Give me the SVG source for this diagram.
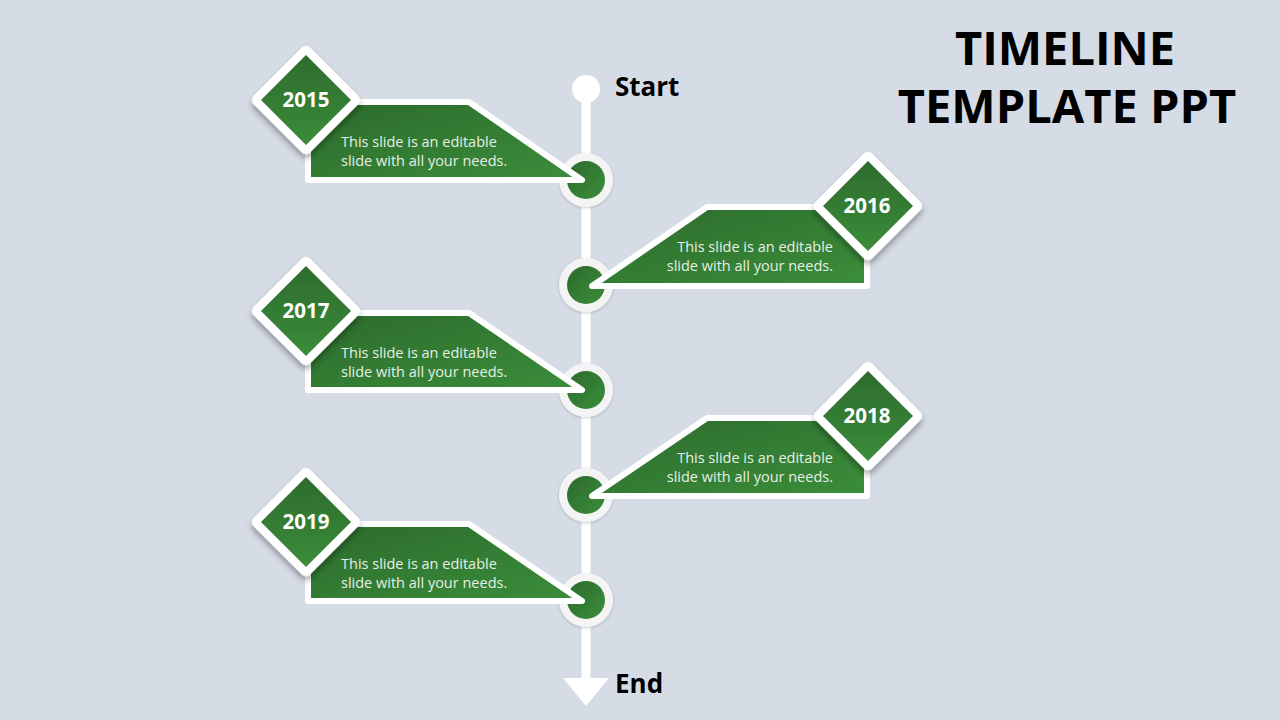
<svg xmlns="http://www.w3.org/2000/svg" width="1280" height="720" viewBox="0 0 1280 720">
<defs>
<linearGradient id="g" x1="0" y1="0" x2="1" y2="1">
<stop offset="0" stop-color="#2c6a2c"/>
<stop offset="1" stop-color="#3b8e3b"/>
</linearGradient>
<filter id="sh" x="-30%" y="-30%" width="160%" height="160%">
<feDropShadow dx="3" dy="3" stdDeviation="3" flood-color="#000" flood-opacity="0.35"/>
</filter>
<filter id="sh2" x="-30%" y="-30%" width="160%" height="160%">
<feDropShadow dx="0" dy="1" stdDeviation="1.5" flood-color="#000" flood-opacity="0.2"/>
</filter>
</defs>
<style>
.panel{fill:url(#g);stroke:#fff;stroke-width:6;stroke-linejoin:round}
.dia{fill:url(#g);stroke:#fff;stroke-width:8;stroke-linejoin:round;filter:url(#sh)}
.ring{fill:#f4f4f4;filter:url(#sh2)}
.dot{fill:url(#g)}
.yr{font-family:"Open Sans","Liberation Sans",sans-serif;font-weight:700;font-size:20.5px;fill:#fff;text-anchor:middle}
.desc{font-family:"Open Sans","Liberation Sans",sans-serif;font-size:14.5px;fill:#e6efe6}
.r{text-anchor:end}
.lbl{font-family:"Open Sans","Liberation Sans",sans-serif;font-weight:700;font-size:26px;fill:#000}
.title{font-family:"Open Sans","Liberation Sans",sans-serif;font-weight:700;font-size:47px;fill:#000;text-anchor:middle}
</style>
<rect width="1280" height="720" fill="#d6dce6"/>
<g id="connectors">
<line x1="586" y1="89" x2="586" y2="682" stroke="#fff" stroke-width="9"/>
<circle cx="586" cy="89" r="14" fill="#fff"/>
<polygon points="563,678 609,678 586,706" fill="#fff"/>
</g>
<g id="start"><text class="lbl" x="615" y="96">Start</text></g>
<g id="end"><text class="lbl" x="615" y="693">End</text></g>
<g id="title">
<text class="title" x="1065" y="65">TIMELINE</text>
<text class="title" x="1067" y="123">TEMPLATE PPT</text>
</g>
<g id="node2015">
<circle class="ring" cx="586" cy="180" r="27"/>
<circle class="dot" cx="586" cy="180" r="19"/>
<polygon class="panel" points="308,102 469,102 582,180 308,180"/>
<rect class="dia" x="270" y="64" width="72" height="72" rx="2" transform="rotate(45 306 100)"/>
<text class="yr" x="306" y="107">2015</text>
<text class="desc" x="341" y="147">This slide is an editable</text>
<text class="desc" x="341" y="166">slide with all your needs.</text>
</g>
<g id="node2016">
<circle class="ring" cx="586" cy="285" r="27"/>
<circle class="dot" cx="586" cy="285" r="19"/>
<polygon class="panel" points="592,286 707,207 867,207 867,286"/>
<rect class="dia" x="832" y="170" width="72" height="72" rx="2" transform="rotate(45 868 206)"/>
<text class="yr" x="867" y="213">2016</text>
<text class="desc r" x="833" y="252">This slide is an editable</text>
<text class="desc r" x="833" y="271">slide with all your needs.</text>
</g>
<g id="node2017">
<circle class="ring" cx="586" cy="390" r="27"/>
<circle class="dot" cx="586" cy="390" r="19"/>
<polygon class="panel" points="308,313 469,313 582,390 308,390"/>
<rect class="dia" x="270" y="275" width="72" height="72" rx="2" transform="rotate(45 306 311)"/>
<text class="yr" x="306" y="318">2017</text>
<text class="desc" x="341" y="358">This slide is an editable</text>
<text class="desc" x="341" y="377">slide with all your needs.</text>
</g>
<g id="node2018">
<circle class="ring" cx="586" cy="495" r="27"/>
<circle class="dot" cx="586" cy="495" r="19"/>
<polygon class="panel" points="592,496 707,418 867,418 867,496"/>
<rect class="dia" x="832" y="380" width="72" height="72" rx="2" transform="rotate(45 868 416)"/>
<text class="yr" x="867" y="423">2018</text>
<text class="desc r" x="833" y="463">This slide is an editable</text>
<text class="desc r" x="833" y="482">slide with all your needs.</text>
</g>
<g id="node2019">
<circle class="ring" cx="586" cy="600" r="27"/>
<circle class="dot" cx="586" cy="600" r="19"/>
<polygon class="panel" points="308,524 469,524 582,601 308,601"/>
<rect class="dia" x="270" y="486" width="72" height="72" rx="2" transform="rotate(45 306 522)"/>
<text class="yr" x="306" y="529">2019</text>
<text class="desc" x="341" y="569">This slide is an editable</text>
<text class="desc" x="341" y="588">slide with all your needs.</text>
</g>
</svg>
